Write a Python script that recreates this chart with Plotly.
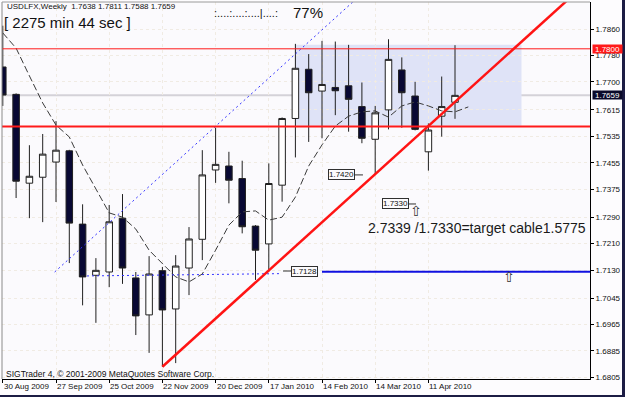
import plotly.graph_objects as go

# ---------------- data ----------------
bar_index = list(range(35))
opens  = [1.7745, 1.7662, 1.7393, 1.7411, 1.7457, 1.7491, 1.7269, 1.7114, 1.7124, 1.7287,
          1.7106, 1.6994, 1.7128, 1.7012, 1.7136, 1.7223, 1.7433, 1.7445, 1.7407, 1.7263,
          1.7209, 1.7387, 1.7589, 1.7738, 1.7672, 1.7683, 1.7688, 1.7625, 1.7526, 1.7615,
          1.7736, 1.7657, 1.7488, 1.7596, 1.7638]
highs  = [1.7870, 1.7665, 1.7508, 1.7542, 1.7581, 1.7494, 1.7329, 1.7166, 1.7327, 1.7360,
          1.7124, 1.7172, 1.7139, 1.7175, 1.7260, 1.7493, 1.7561, 1.7488, 1.7461, 1.7266,
          1.7453, 1.7592, 1.7815, 1.7784, 1.7824, 1.7822, 1.7812, 1.7698, 1.7627, 1.7829,
          1.7774, 1.7700, 1.7574, 1.7716, 1.7811]
lows   = [1.7627, 1.7348, 1.7287, 1.7275, 1.7336, 1.7151, 1.7023, 1.6970, 1.7078, 1.7088,
          1.6933, 1.6879, 1.6837, 1.6848, 1.7054, 1.7160, 1.7394, 1.7332, 1.7241, 1.7100,
          1.7125, 1.7337, 1.7471, 1.7518, 1.7529, 1.7599, 1.7549, 1.7514, 1.7420, 1.7556,
          1.7561, 1.7553, 1.7431, 1.7534, 1.7588]
closes = [1.7660, 1.7399, 1.7414, 1.7481, 1.7493, 1.7272, 1.7109, 1.7129, 1.7276, 1.7136,
          1.6991, 1.7118, 1.7009, 1.7142, 1.7224, 1.7418, 1.7450, 1.7402, 1.7261, 1.7190,
          1.7392, 1.7589, 1.7741, 1.7667, 1.7692, 1.7673, 1.7647, 1.7529, 1.7606, 1.7768,
          1.7667, 1.7556, 1.7554, 1.7625, 1.7659]

ma_index = list(range(36))
ma_values = [1.7848, 1.7802, 1.7718, 1.7636, 1.7569, 1.7533, 1.7448, 1.7375, 1.7303, 1.7290,
             1.7254, 1.7190, 1.7151, 1.7109, 1.7094, 1.7118, 1.7190, 1.7266, 1.7306, 1.7309,
             1.7281, 1.7290, 1.7351, 1.7445, 1.7509, 1.7566, 1.7596, 1.7609, 1.7612, 1.7593,
             1.7627, 1.7639, 1.7627, 1.7612, 1.7609, 1.7624]

tick_index = [0, 4, 8, 12, 16, 20, 24, 28, 32]
tick_labels = ["30 Aug 2009", "27 Sep 2009", "25 Oct 2009", "22 Nov 2009", "20 Dec 2009",
               "17 Jan 2010", "14 Feb 2010", "14 Mar 2010", "11 Apr 2010"]

price_ticks = [1.7860, 1.7780, 1.7700, 1.7615, 1.7535, 1.7455, 1.7375, 1.7290, 1.7210,
               1.7130, 1.7045, 1.6965, 1.6885, 1.6805]

# drawn objects
trend_x, trend_y = [12, 44.5], [1.6837, 1.8022]
chan_x, chan_y = [3.9, 27.5], [1.7124, 1.7985]
hdot_x, hdot_y = [6.33, 20.84], [1.7112, 1.7119]
hsolid_x, hsolid_y = [24.0, 46.0], [1.7125, 1.7125]
resist_level = 1.7800
support_level = 1.7565
bid_level = 1.7659
zone_x = [22, 39]
zone_y = [1.7567, 1.7812]

label_texts = ["1.7420", "1.7330", "1.7128"]
label_x = [25.47, 29.49, 22.65]
label_y = [1.7418, 1.7330, 1.7127]
label_line_x = [[26.4, 27.08], [30.47, 31.07], [21.07, 21.74]]
arrow_x = [31.07, 38.06]
arrow_y = [1.7309, 1.7109]

# ---------------- layout geometry ----------------
W, H = 625, 397
L, R, T, B = 2, 35, 2, 18
PW, PH = W - L - R, H - T - B


def pxx(px):
    return (px - L) / PW


def pxy(py):
    return (H - B - py) / PH


FONT = "Liberation Sans, Arial, sans-serif"

fig = go.Figure()

fig.add_trace(go.Candlestick(
    x=bar_index, open=opens, high=highs, low=lows, close=closes,
    increasing=dict(line=dict(color="#202020", width=1), fillcolor="#ffffff"),
    decreasing=dict(line=dict(color="#202020", width=1), fillcolor="#080833"),
    whiskerwidth=0, showlegend=False, hoverinfo="skip"))

fig.add_trace(go.Scatter(x=ma_index, y=ma_values, mode="lines",
                         line=dict(color="#3a3a3a", width=1, dash="7px,3px"),
                         showlegend=False, hoverinfo="skip"))
fig.add_trace(go.Scatter(x=chan_x, y=chan_y, mode="lines",
                         line=dict(color="#3434ff", width=1, dash="2px,3px"),
                         showlegend=False, hoverinfo="skip"))
fig.add_trace(go.Scatter(x=hdot_x, y=hdot_y, mode="lines",
                         line=dict(color="#3434ff", width=1, dash="2px,3px"),
                         showlegend=False, hoverinfo="skip"))
fig.add_trace(go.Scatter(x=hsolid_x, y=hsolid_y, mode="lines",
                         line=dict(color="#1010e0", width=2),
                         showlegend=False, hoverinfo="skip"))
fig.add_trace(go.Scatter(x=trend_x, y=trend_y, mode="lines",
                         line=dict(color="#ff1414", width=2.5),
                         showlegend=False, hoverinfo="skip"))

shapes = []
# shaded zone
shapes.append(dict(type="rect", xref="x", yref="y", x0=zone_x[0], x1=zone_x[1],
                   y0=zone_y[0], y1=zone_y[1], fillcolor="#dfe3f7",
                   line=dict(width=0), layer="below"))
# bid line
shapes.append(dict(type="line", xref="paper", yref="y", x0=0, x1=1,
                   y0=bid_level, y1=bid_level, line=dict(color="#d4d2d8", width=2),
                   layer="below"))
# horizontal red lines
shapes.append(dict(type="line", xref="paper", yref="y", x0=0, x1=1,
                   y0=resist_level, y1=resist_level, line=dict(color="#ff1a1a", width=1)))
shapes.append(dict(type="line", xref="paper", yref="y", x0=0, x1=1,
                   y0=support_level, y1=support_level, line=dict(color="#ff1a1a", width=2)))
# label leader lines
for (lx, ly) in zip(label_line_x, label_y):
    shapes.append(dict(type="line", xref="x", yref="y", x0=lx[0], x1=lx[1],
                       y0=ly, y1=ly, line=dict(color="#303030", width=1)))
# frame: left & top gray
shapes.append(dict(type="line", xref="paper", yref="paper", x0=0, x1=0, y0=0, y1=1,
                   line=dict(color="#8a8a8a", width=1)))
shapes.append(dict(type="line", xref="paper", yref="paper", x0=0, x1=1, y0=1, y1=1,
                   line=dict(color="#9a9a9a", width=1)))
# outer dark window border (right & bottom)
shapes.append(dict(type="rect", xref="paper", yref="paper", x0=pxx(622), x1=pxx(627),
                   y0=pxy(400), y1=pxy(-2), fillcolor="#1c1c44", line=dict(width=0)))
shapes.append(dict(type="rect", xref="paper", yref="paper", x0=pxx(-2), x1=pxx(627),
                   y0=pxy(400), y1=pxy(395), fillcolor="#1c1c44", line=dict(width=0)))

ann = []
# date labels
for ti, tl in zip(tick_index, tick_labels):
    ann.append(dict(x=ti, xref="x", y=pxy(386.5), yref="paper", text=tl, showarrow=False,
                    xanchor="left", yanchor="middle", xshift=-1,
                    font=dict(family=FONT, size=8, color="#111111")))
# price label boxes
for t, lx, ly in zip(label_texts, label_x, label_y):
    ann.append(dict(x=lx, xref="x", y=ly, yref="y", text=t, showarrow=False,
                    xanchor="center", yanchor="middle", bgcolor="#fcfbfd",
                    bordercolor="#303030", borderwidth=1, borderpad=0,
                    font=dict(family=FONT, size=8, color="#111111")))
for axp, ayp in zip(arrow_x, arrow_y):
    ann.append(dict(x=axp, xref="x", y=ayp, yref="y", text="⇧", showarrow=False,
                    xanchor="center", yanchor="middle",
                    font=dict(family="DejaVu Sans", size=14, color="#333333")))
# target text
ann.append(dict(x=pxx(366), xref="paper", y=pxy(228), yref="paper",
                text="2.7339 /1.7330=target cable1.5775", showarrow=False,
                xanchor="left", yanchor="middle",
                font=dict(family=FONT, size=14, color="#1a1a1a")))
# header texts
ann.append(dict(x=pxx(5), xref="paper", y=pxy(6.5), yref="paper",
                text="USDLFX,Weekly  1.7638 1.7811 1.7588 1.7659", showarrow=False,
                xanchor="left", yanchor="middle",
                font=dict(family=FONT, size=8, color="#111111")))
ann.append(dict(x=pxx(2), xref="paper", y=pxy(22.5), yref="paper",
                text="[ 2275 min 44 sec ]", showarrow=False,
                xanchor="left", yanchor="middle",
                font=dict(family=FONT, size=15, color="#111111")))
ann.append(dict(x=pxx(212), xref="paper", y=pxy(13), yref="paper",
                text=":....:....:....|....:", showarrow=False,
                xanchor="left", yanchor="middle",
                font=dict(family=FONT, size=11, color="#111111")))
ann.append(dict(x=pxx(291), xref="paper", y=pxy(13), yref="paper",
                text="77%", showarrow=False, xanchor="left", yanchor="middle",
                font=dict(family=FONT, size=15, color="#111111")))
ann.append(dict(x=pxx(4), xref="paper", y=pxy(374), yref="paper",
                text="SIGTrader 4, © 2001-2009 MetaQuotes Software Corp.", showarrow=False,
                xanchor="left", yanchor="middle",
                font=dict(family=FONT, size=8.5, color="#111111")))
# axis price boxes
ann.append(dict(x=1, xref="paper", y=resist_level, yref="y", text="1.7800", showarrow=False,
                xanchor="left", yanchor="middle", xshift=2, bgcolor="#ff1a1a",
                borderpad=0, width=29, height=8,
                font=dict(family=FONT, size=8, color="#ffffff")))
ann.append(dict(x=1, xref="paper", y=bid_level, yref="y", text="1.7659", showarrow=False,
                xanchor="left", yanchor="middle", xshift=2, bgcolor="#0a0a2a",
                borderpad=0, width=29, height=8,
                font=dict(family=FONT, size=8, color="#ffffff")))

x_lo = (L - 2.8) / 13.3
x_hi = (L + PW - 2.8) / 13.3
y_hi = 1.7860 + (29 - T) / 3301
y_lo = 1.6805 - (H - B - 377.3) / 3301

fig.update_layout(
    width=W, height=H, margin=dict(l=L, r=R, t=T, b=B),
    paper_bgcolor="#fdfcfe", plot_bgcolor="#fbfafd",
    shapes=shapes, annotations=ann, showlegend=False,
    xaxis=dict(range=[x_lo, x_hi], tickvals=tick_index, ticktext=[""] * len(tick_index),
               ticks="outside", ticklen=3, tickcolor="#000000",
               showline=True, linecolor="#000000", linewidth=1,
               showgrid=True, gridcolor="#f0ebe3", griddash="dot", gridwidth=1,
               zeroline=False, rangeslider=dict(visible=False), fixedrange=True),
    yaxis=dict(range=[y_lo, y_hi], side="right", tickvals=price_ticks,
               ticktext=["%.4f" % v for v in price_ticks],
               ticks="outside", ticklen=3, tickcolor="#000000",
               tickfont=dict(family=FONT, size=8, color="#111111"),
               showline=True, linecolor="#000000", linewidth=1,
               showgrid=True, gridcolor="#f0ebe3", griddash="dot", gridwidth=1,
               zeroline=False, fixedrange=True),
)

fig.write_html("out.html")
